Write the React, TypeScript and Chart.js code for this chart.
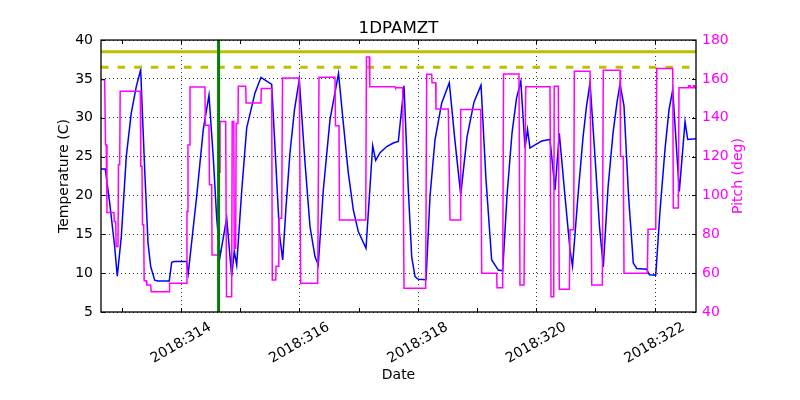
import { useEffect, useRef } from "react";
import { Chart, registerables } from "chart.js";

Chart.register(...registerables);

const chartTitle = "1DPAMZT";
const xAxisTitle = "Date";
const tempAxisTitle = "Temperature (C)";
const pitchAxisTitle = "Pitch (deg)";

const xRange = [312.649, 322.699];
const tempRange = [5, 40];
const pitchRange = [40, 180];

const xTickDays = [313, 314, 315, 316, 317, 318, 319, 320, 321, 322];
const xLabelDays = [314, 316, 318, 320, 322];
const xTickLabels = ["2018:314", "2018:316", "2018:318", "2018:320", "2018:322"];

const planningLimit = 38.5;
const cautionLimit = 36.5;
const markerDay = 314.635;

const tempDays = [
  312.649, 312.721, 312.796, 312.88, 312.924, 312.992, 313.076, 313.16, 313.245, 313.319,
  313.387, 313.443, 313.488, 313.556, 313.611, 313.802, 313.843, 313.882, 314.096, 314.123,
  314.265, 314.377, 314.473, 314.546, 314.603, 314.659, 314.772, 314.856, 314.9, 314.941,
  315.025, 315.11, 315.25, 315.351, 315.532, 315.596, 315.664, 315.718, 315.774, 315.841,
  315.917, 315.998, 316.095, 316.179, 316.264, 316.319, 316.404, 316.517, 316.661, 316.742,
  316.826, 316.911, 316.995, 317.125, 317.238, 317.289, 317.362, 317.475, 317.586, 317.671,
  317.767, 317.84, 317.897, 317.953, 318.008, 318.139, 318.206, 318.291, 318.404, 318.532,
  318.628, 318.725, 318.831, 318.949, 319.068, 319.152, 319.248, 319.36, 319.434, 319.507,
  319.591, 319.667, 319.74, 319.811, 319.853, 319.895, 319.98, 320.093, 320.233, 320.318,
  320.39, 320.486, 320.571, 320.613, 320.706, 320.791, 320.85, 320.909, 320.993, 321.069,
  321.133, 321.213, 321.297, 321.365, 321.416, 321.483, 321.559, 321.64, 321.698, 321.867,
  321.911, 322.019, 322.091, 322.176, 322.243, 322.306, 322.417, 322.514, 322.559, 322.699,
];
const tempValues = [
  23.4, 23.4, 19.0, 13.4, 9.6, 14.7, 25.0, 30.6, 34.0, 36.2,
  23.3, 13.9, 10.85, 9.1, 9.0, 9.0, 11.4, 11.5, 11.5, 10.0,
  19.9, 28.5, 32.9, 24.8, 17.1, 12.1, 17.1, 9.6, 12.8, 11.05,
  20.5, 28.7, 33.2, 35.2, 34.3, 25.0, 15.0, 11.7, 18.5, 25.5,
  31.0, 34.9, 24.2, 16.0, 12.1, 11.05, 20.7, 29.75, 35.7, 29.3,
  22.9, 18.15, 15.35, 13.2, 26.4, 24.5, 25.5, 26.3, 26.75, 26.95,
  34.1, 20.7, 12.1, 9.55, 9.2, 9.15, 19.9, 27.2, 31.9, 34.5,
  27.0, 20.1, 27.5, 32.0, 34.2, 22.0, 11.7, 10.4, 10.3, 20.0,
  28.0, 32.5, 34.7, 26.1, 28.5, 26.1, 26.5, 27.0, 27.2, 20.7,
  28.0, 19.9, 13.0, 10.9, 20.0, 27.5, 31.5, 34.5, 25.0, 16.0,
  10.8, 21.0, 28.0, 32.0, 34.35, 31.5, 20.0, 11.3, 10.6, 10.5,
  9.8, 9.75, 18.0, 26.0, 31.0, 33.6, 20.5, 29.5, 27.2, 27.3,
];

const pitchDays = [
  312.649, 312.711, 312.725, 312.738, 312.75, 312.868, 312.873, 312.897, 312.905, 312.936,
  312.944, 312.965, 312.973, 313.313, 313.321, 313.341, 313.35, 313.37, 313.378, 313.414,
  313.422, 313.488, 313.498, 313.802, 313.807, 314.096, 314.101, 314.111, 314.118, 314.145,
  314.152, 314.405, 314.41, 314.473, 314.481, 314.519, 314.524, 314.63, 314.635, 314.655,
  314.659, 314.755, 314.769, 314.856, 314.865, 314.892, 314.899, 314.924, 314.932, 314.963,
  314.968, 315.093, 315.101, 315.351, 315.356, 315.532, 315.542, 315.601, 315.606, 315.652,
  315.657, 315.701, 315.715, 315.998, 316.022, 316.309, 316.331, 316.601, 316.61, 316.669,
  316.677, 317.12, 317.133, 317.181, 317.189, 317.615, 317.623, 317.745, 317.767, 318.133,
  318.15, 318.235, 318.24, 318.302, 318.307, 318.515, 318.544, 318.713, 318.725, 319.063,
  319.079, 319.333, 319.338, 319.434, 319.448, 319.709, 319.726, 319.794, 319.823, 320.233,
  320.25, 320.296, 320.304, 320.373, 320.39, 320.559, 320.571, 320.633, 320.644, 320.909,
  320.938, 321.117, 321.133, 321.416, 321.424, 321.471, 321.483, 321.877, 321.889, 322.019,
  322.036, 322.306, 322.316, 322.4, 322.412, 322.569, 322.573, 322.598, 322.603, 322.649,
  322.654, 322.674, 322.679, 322.699,
];
const pitchValues = [
  159.6, 159.6, 126.1, 126.1, 91.2, 91.2, 86.6, 86.6, 73.7, 73.7,
  115.8, 115.8, 153.6, 153.6, 115.0, 115.0, 84.9, 84.9, 56.1, 56.1,
  53.9, 53.9, 50.4, 50.4, 54.8, 54.8, 91.7, 91.7, 126.0, 126.0,
  155.8, 155.8, 136.1, 136.1, 105.5, 105.5, 69.4, 69.4, 112.0, 112.0,
  138.1, 138.1, 47.9, 47.9, 138.1, 138.1, 72.8, 72.8, 137.0, 137.0,
  156.2, 156.2, 147.6, 147.6, 155.0, 155.0, 56.5, 56.5, 63.5, 63.5,
  88.3, 88.3, 160.5, 160.5, 54.8, 54.8, 160.8, 160.8, 135.9, 135.9,
  87.4, 87.4, 171.3, 171.3, 155.9, 155.9, 155.4, 155.4, 52.2, 52.2,
  162.4, 162.4, 158.0, 158.0, 144.5, 144.5, 87.4, 87.4, 144.2, 144.2,
  60.0, 60.0, 52.5, 52.5, 162.5, 162.5, 53.9, 53.9, 155.9, 155.9,
  47.9, 47.9, 156.2, 156.2, 51.7, 51.7, 82.3, 82.3, 163.9, 163.9,
  53.9, 53.9, 164.4, 164.4, 120.1, 120.1, 60.0, 60.0, 82.6, 82.6,
  165.3, 165.3, 93.5, 93.5, 155.4, 155.4, 156.5, 156.5, 155.4, 155.4,
  156.5, 156.5, 155.4, 155.4,
];

const FONT = "DejaVu Sans";
const MAGENTA = "#ff00ff";
const BLUE = "#0000ff";
const LIMIT = "#bfbf00";
const GREEN = "#008000";

const framePlugin = {
  id: "mplFrame",
  beforeDatasetsDraw(chart: any) {
    const { ctx, chartArea: a, scales } = chart;
    const sx = scales.x;
    ctx.save();
    ctx.strokeStyle = "#000";
    ctx.lineWidth = 0.8;
    ctx.setLineDash([1, 3]);
    ctx.beginPath();
    xLabelDays.forEach((d) => {
      const px = Math.round(sx.getPixelForValue(d)) + 0.5;
      ctx.moveTo(px, a.top);
      ctx.lineTo(px, a.bottom);
    });
    ctx.stroke();
    ctx.restore();
  },
  afterDraw(chart: any) {
    const { ctx, chartArea: a, scales } = chart;
    const sx = scales.x;
    const sy = scales.y;
    const sy2 = scales.y2;
    ctx.save();
    ctx.strokeStyle = "#000";
    ctx.lineWidth = 1;
    ctx.beginPath();
    xTickDays.forEach((d) => {
      const px = Math.round(sx.getPixelForValue(d)) + 0.5;
      ctx.moveTo(px, a.bottom);
      ctx.lineTo(px, a.bottom - 4);
      ctx.moveTo(px, a.top);
      ctx.lineTo(px, a.top + 4);
    });
    sy.ticks.forEach((t: any) => {
      const py = Math.round(sy.getPixelForValue(t.value)) + 0.5;
      ctx.moveTo(a.left, py);
      ctx.lineTo(a.left + 4, py);
    });
    sy2.ticks.forEach((t: any) => {
      const py = Math.round(sy2.getPixelForValue(t.value)) + 0.5;
      ctx.moveTo(a.right, py);
      ctx.lineTo(a.right - 4, py);
    });
    ctx.stroke();
    ctx.lineWidth = 1.3;
    ctx.strokeRect(a.left, a.top, a.right - a.left, a.bottom - a.top);

    ctx.font = `14px "${FONT}"`;
    ctx.fillStyle = "#000";
    ctx.textAlign = "center";
    ctx.textBaseline = "middle";
    xLabelDays.forEach((d, i) => {
      const px = sx.getPixelForValue(d);
      ctx.save();
      ctx.translate(px, a.bottom + 31);
      ctx.rotate(-Math.PI / 6);
      ctx.fillText(xTickLabels[i], 0, 0);
      ctx.restore();
    });

    ctx.fillStyle = MAGENTA;
    ctx.save();
    ctx.translate(a.right + 42, (a.top + a.bottom) / 2);
    ctx.rotate(-Math.PI / 2);
    ctx.fillText(pitchAxisTitle, 0, 0);
    ctx.restore();
    ctx.restore();
  },
};

export default function App() {
  const canvasRef = useRef<HTMLCanvasElement | null>(null);

  useEffect(() => {
    if (!canvasRef.current) return;
    const tempData = tempDays.map((d, i) => ({ x: d, y: tempValues[i] }));
    const pitchData = pitchDays.map((d, i) => ({ x: d, y: pitchValues[i] }));
    const font14 = { family: FONT, size: 14, weight: "normal" as const };

    const chart = new Chart(canvasRef.current, {
      type: "line",
      data: {
        datasets: [
          {
            label: "marker",
            data: [
              { x: markerDay, y: tempRange[0] },
              { x: markerDay, y: tempRange[1] },
            ],
            borderColor: GREEN,
            borderWidth: 3,
            pointRadius: 0,
            yAxisID: "y",
          },
          {
            label: "pitch",
            data: pitchData,
            borderColor: MAGENTA,
            borderWidth: 1.5,
            pointRadius: 0,
            tension: 0,
            yAxisID: "y2",
          },
          {
            label: "planning",
            data: [
              { x: xRange[0], y: planningLimit },
              { x: xRange[1], y: planningLimit },
            ],
            borderColor: LIMIT,
            borderWidth: 3,
            pointRadius: 0,
            yAxisID: "y",
          },
          {
            label: "caution",
            data: [
              { x: xRange[0], y: cautionLimit },
              { x: xRange[1], y: cautionLimit },
            ],
            borderColor: LIMIT,
            borderWidth: 3,
            borderDash: [7.5, 9.1],
            pointRadius: 0,
            yAxisID: "y",
          },
          {
            label: "temp",
            data: tempData,
            borderColor: BLUE,
            borderWidth: 1.5,
            pointRadius: 0,
            tension: 0,
            yAxisID: "y",
          },
        ],
      },
      options: {
        animation: false,
        responsive: false,
        maintainAspectRatio: false,
        devicePixelRatio: 1,
        layout: { padding: 0 },
        plugins: {
          legend: { display: false },
          tooltip: { enabled: false },
          title: {
            display: true,
            text: chartTitle,
            fullSize: false,
            color: "#000",
            font: { family: FONT, size: 16.7, weight: "normal" },
            padding: { top: 19, bottom: 1 },
          },
        },
        scales: {
          x: {
            type: "linear",
            position: "bottom",
            min: xRange[0],
            max: xRange[1],
            afterBuildTicks: (s: any) => {
              s.ticks = xTickDays.map((v) => ({ value: v }));
            },
            afterFit: (s: any) => {
              s.height = 88;
            },
            ticks: { display: false },
            grid: { display: false },
            border: { display: false },
            title: {
              display: true,
              text: xAxisTitle,
              color: "#000",
              font: font14,
              padding: { top: 0, bottom: 16.6 },
            },
          },
          y: {
            type: "linear",
            position: "left",
            min: tempRange[0],
            max: tempRange[1],
            afterFit: (s: any) => {
              s.width = 101;
            },
            ticks: { stepSize: 5, color: "#000", font: font14, padding: 8 },
            grid: { color: "#000", lineWidth: 0.8, drawTicks: false },
            border: { display: false, dash: [1, 3] },
            title: {
              display: true,
              text: tempAxisTitle,
              color: "#000",
              font: font14,
              padding: { top: 55.6, bottom: 0 },
            },
          },
          y2: {
            type: "linear",
            position: "right",
            min: pitchRange[0],
            max: pitchRange[1],
            afterFit: (s: any) => {
              s.width = 104;
            },
            ticks: { stepSize: 20, color: MAGENTA, font: font14, padding: 6 },
            grid: { display: false, drawTicks: false },
            border: { display: false },
          },
        },
      },
      plugins: [framePlugin],
    });
    return () => chart.destroy();
  }, []);

  return (
    <div style={{ position: "fixed", left: 0, top: 0, width: 800, height: 400, background: "#fff" }}>
      <canvas ref={canvasRef} width={800} height={400} style={{ display: "block", width: 800, height: 400 }} />
    </div>
  );
}
